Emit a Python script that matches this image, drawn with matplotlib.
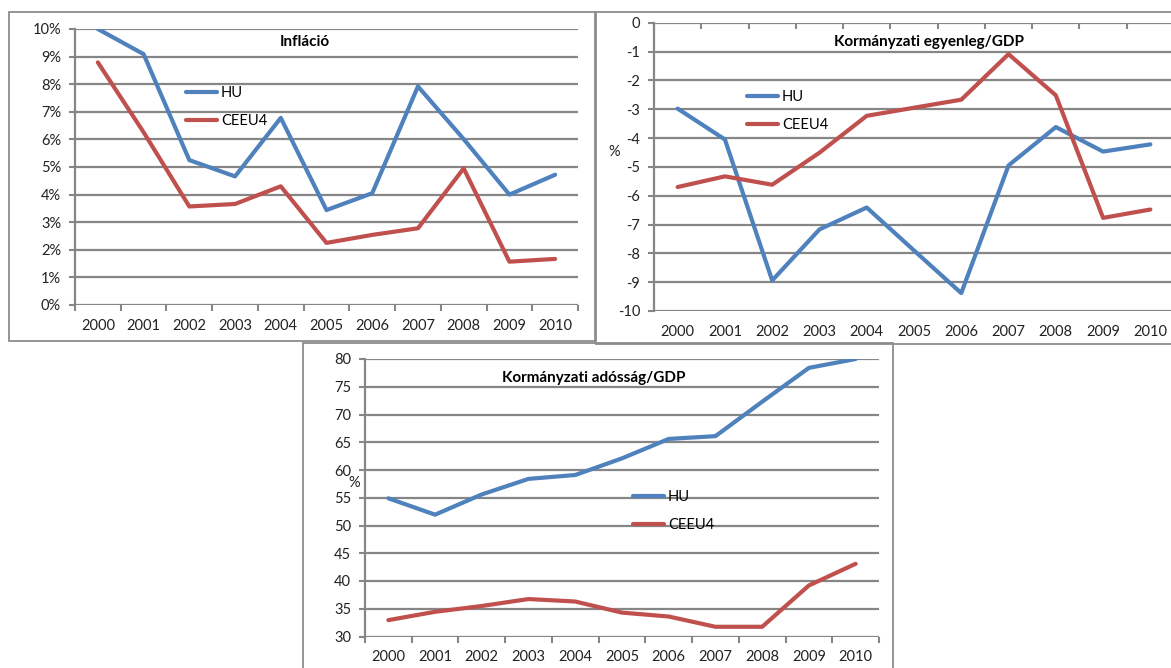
import matplotlib.pyplot as plt
from matplotlib.patches import Rectangle
import numpy as np

plt.rcParams['font.family'] = ['Lato', 'DejaVu Sans']

# Adatok
evek = ["2000", "2001", "2002", "2003", "2004", "2005", "2006", "2007", "2008", "2009", "2010"]

inflacio_hu = [10.0, 9.09, 5.25, 4.66, 6.78, 3.44, 4.05, 7.92, 6.01, 4.0, 4.72]
inflacio_ceeu4 = [8.79, 6.26, 3.57, 3.66, 4.30, 2.25, 2.54, 2.78, 4.95, 1.57, 1.67]

egyenleg_hu = [-2.98, -4.05, -8.94, -7.17, -6.41, -7.9, -9.38, -4.95, -3.62, -4.47, -4.22]
egyenleg_ceeu4 = [-5.70, -5.33, -5.62, -4.51, -3.23, -2.95, -2.67, -1.09, -2.52, -6.77, -6.48]

adossag_hu = [54.9, 51.95, 55.6, 58.4, 59.1, 62.1, 65.6, 66.1, 72.3, 78.4, 80.0]
adossag_ceeu4 = [32.95, 34.45, 35.5, 36.75, 36.3, 34.3, 33.6, 31.75, 31.75, 39.2, 43.1]

KEK = "#4F81BD"
PIROS = "#C0504D"
SZURKE = "#868686"

W, H = 1171, 668
fig = plt.figure(figsize=(W / 100, H / 100), dpi=100)


def box(l, t, r, b):
    return [l / W, 1 - b / H, (r - l) / W, (b - t) / H]


# keretek a diagramok körül
for l, t, r, b in [(9, 12, 596, 341), (595, 12, 1180, 344), (303, 343, 893, 680)]:
    fig.add_artist(Rectangle((l / W, 1 - b / H), (r - l) / W, (b - t) / H,
                             transform=fig.transFigure, fill=False,
                             edgecolor="#8c8c8c", lw=1.3))


def rajz(pozicio, hu, ceeu4, ymin, ymax, lepes, fmt, cim, cim_xy, leg_xy,
         felso_tengely=False, szazalek_xy=None):
    ax = fig.add_axes(box(*pozicio))
    ax.set_facecolor("none")
    x = np.arange(len(evek))
    ax.plot(x, hu, color=KEK, lw=3, label="HU", solid_capstyle="round", solid_joinstyle="round")
    ax.plot(x, ceeu4, color=PIROS, lw=3, label="CEEU4", solid_capstyle="round", solid_joinstyle="round")
    ax.set_xlim(-0.5, len(evek) - 0.5)
    ax.set_ylim(ymin, ymax)
    yt = np.arange(ymin, ymax + lepes / 2, lepes)
    ax.set_yticks(yt)
    ax.set_yticklabels([fmt(v) for v in yt])
    for v in yt:
        ax.axhline(v, color=SZURKE, lw=1.6, zorder=0.5)
    ax.set_xticks(np.arange(-0.5, len(evek)), minor=False)
    ax.set_xticklabels([])
    ax.set_xticks(x, minor=True)
    ax.set_xticklabels(evek, minor=True)
    for s in ["top", "right", "bottom"]:
        ax.spines[s].set_visible(False)
    ax.spines["left"].set_color(SZURKE)
    ax.spines["left"].set_linewidth(1.6)
    ax.tick_params(axis="y", length=4, width=1.5, color=SZURKE, pad=6, labelsize=10.5, labelcolor="#222222")
    ax.tick_params(axis="x", which="minor", length=0, pad=10, labelsize=10.5, labelcolor="#222222")
    if felso_tengely:
        ax.tick_params(axis="x", which="major", bottom=False, top=True, direction="in",
                       length=4, width=1.5, color=SZURKE)
    else:
        ax.tick_params(axis="x", which="major", length=4, width=1.5, color=SZURKE)
    fig.text(cim_xy[0] / W, 1 - cim_xy[1] / H, cim, ha="center", va="center",
             fontsize=11, fontweight="bold")
    ax.legend(loc="center left", bbox_to_anchor=(leg_xy[0] / W, 1 - leg_xy[1] / H),
              bbox_transform=fig.transFigure, frameon=False, fontsize=10.5,
              handlelength=2.1, handletextpad=0.3, labelspacing=1.0,
              borderpad=0, borderaxespad=0)
    if szazalek_xy:
        fig.text(szazalek_xy[0] / W, 1 - szazalek_xy[1] / H, "%", ha="center", va="center",
                 fontsize=10.5, color="#222222")
    return ax


rajz((75, 29, 578, 305), inflacio_hu, inflacio_ceeu4, 0, 10, 1,
     lambda v: f"{int(round(v))}%", "Infláció", (305, 42), (186, 107))

rajz((654, 22.7, 1174, 311), egyenleg_hu, egyenleg_ceeu4, -10, 0, 1,
     lambda v: f"{int(round(v))}", "Kormányzati egyenleg/GDP", (929, 42), (747, 111),
     felso_tengely=True, szazalek_xy=(614, 152))

rajz((365, 359, 879, 636.5), adossag_hu, adossag_ceeu4, 30, 80, 5,
     lambda v: f"{int(round(v))}", "Kormányzati adósság/GDP", (594, 378), (633, 511),
     szazalek_xy=(354, 483))

fig.savefig("out.png", dpi=100)
